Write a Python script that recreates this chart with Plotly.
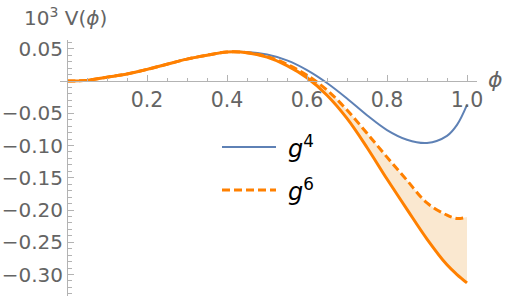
import plotly.graph_objects as go

# ---- data ----
phi = [0.0, 0.05, 0.1, 0.15, 0.2, 0.25, 0.3, 0.35, 0.4, 0.45, 0.5, 0.55,
       0.6, 0.65, 0.7, 0.75, 0.8, 0.85, 0.9, 0.95, 0.975, 1.0]
v_g4 = [0.0, 0.001, 0.006, 0.011, 0.018, 0.026, 0.034, 0.040, 0.045, 0.045,
        0.041, 0.032, 0.017, -0.003, -0.027, -0.053, -0.076, -0.091, -0.096,
        -0.085, -0.068, -0.037]
v_g6_lo = [0.0, 0.001, 0.006, 0.011, 0.018, 0.026, 0.034, 0.040, 0.045, 0.044,
           0.037, 0.024, 0.005, -0.022, -0.058, -0.103, -0.152, -0.199, -0.245,
           -0.285, -0.300, -0.313]
v_g6_hi = [0.0, 0.001, 0.006, 0.011, 0.018, 0.026, 0.034, 0.040, 0.045, 0.044,
           0.038, 0.026, 0.009, -0.014, -0.045, -0.081, -0.118, -0.154, -0.189,
           -0.208, -0.213, -0.211]

x_ticks = [0.2, 0.4, 0.6, 0.8, 1.0]
x_labels = ["0.2", "0.4", "0.6", "0.8", "1.0"]
y_ticks = [0.05, -0.05, -0.10, -0.15, -0.20, -0.25, -0.30]
y_labels = ["0.05", "\u22120.05", "\u22120.10", "\u22120.15", "\u22120.20",
            "\u22120.25", "\u22120.30"]

BLUE = "#5E81B5"
ORANGE = "#FF8000"
FILL = "rgba(246, 214, 170, 0.55)"
AX = "#b3b3b3"
TXT = "#646464"
FONT = "DejaVu Sans"
DASH = "8px,4px"

fig = go.Figure()
fig.add_trace(go.Scatter(x=phi, y=v_g4, mode="lines", name="g4",
                         line=dict(color=BLUE, width=2, shape="spline"),
                         showlegend=False))
fig.add_trace(go.Scatter(x=phi, y=v_g6_lo, mode="lines", name="g6 lower",
                         line=dict(color=ORANGE, width=3, shape="spline"),
                         showlegend=False))
fig.add_trace(go.Scatter(x=phi, y=v_g6_hi, mode="lines", name="g6",
                         line=dict(color=ORANGE, width=3, shape="spline", dash=DASH),
                         fill="tonexty", fillcolor=FILL, showlegend=False))

x_rng = [-0.0175, 1.025]
y_rng = [-0.3333, 0.0636]

fig.update_layout(
    width=505, height=299,
    margin=dict(l=60, r=28, t=40, b=3, autoexpand=False),
    paper_bgcolor="white", plot_bgcolor="white",
    font=dict(family=FONT, color=TXT, size=20),
    xaxis=dict(range=x_rng, anchor="free", automargin=False,
               position=(0 - y_rng[0]) / (y_rng[1] - y_rng[0]),
               showgrid=False, zeroline=False, showline=True, linecolor=AX, linewidth=1,
               tickmode="array", tickvals=x_ticks, ticktext=x_labels,
               ticks="inside", ticklen=6, tickcolor=AX, tickwidth=1,
               tickfont=dict(size=20.5, color=TXT, family=FONT),
               minor=dict(dtick=0.05, tick0=0, ticks="inside", ticklen=3.5,
                          tickcolor=AX, tickwidth=1, showgrid=False)),
    yaxis=dict(range=y_rng, anchor="free", automargin=False,
               position=(0 - x_rng[0]) / (x_rng[1] - x_rng[0]),
               showgrid=False, zeroline=False, showline=True, linecolor=AX, linewidth=1,
               tickmode="array", tickvals=y_ticks, ticktext=y_labels,
               ticks="inside", ticklen=6, tickcolor=AX, tickwidth=1,
               tickfont=dict(size=20, color=TXT, family=FONT),
               minor=dict(dtick=0.01, tick0=0, ticks="inside", ticklen=3.5,
                          tickcolor=AX, tickwidth=1, showgrid=False)),
)

# pixel -> paper helpers for decorations
def px_x(p):
    return (p - 60) / 417

def px_y(p):
    return 1 - (p - 40) / 256

# axis titles
fig.add_annotation(text="10<sup>3</sup> V(<i>\u03d5</i>)", xref="paper", yref="paper",
                   x=px_x(22), y=px_y(17), xanchor="left", yanchor="middle",
                   showarrow=False, font=dict(size=20, color=TXT, family=FONT))
fig.add_annotation(text="<i>\u03d5</i>", xref="paper", yref="paper",
                   x=px_x(495), y=px_y(79), xanchor="center", yanchor="middle",
                   showarrow=False, font=dict(size=22, color=TXT, family=FONT))

# legend (drawn manually to match the reference layout)
for ypix, dash, col, lab in [(147, "solid", BLUE, "<i>g</i><sup>4</sup>"),
                             (190, DASH, ORANGE, "<i>g</i><sup>6</sup>")]:
    fig.add_shape(type="line", xref="paper", yref="paper",
                  x0=px_x(222), x1=px_x(276), y0=px_y(ypix), y1=px_y(ypix),
                  line=dict(color=col, width=2 if col == BLUE else 3, dash=dash))
    fig.add_annotation(text=lab, xref="paper", yref="paper",
                       x=px_x(286), y=px_y(ypix), xanchor="left", yanchor="middle",
                       showarrow=False, font=dict(size=24, color="black", family=FONT))

fig.write_html("out.html", config={"displayModeBar": False},
               post_script="document.body.style.margin='0';document.body.style.padding='0';")
